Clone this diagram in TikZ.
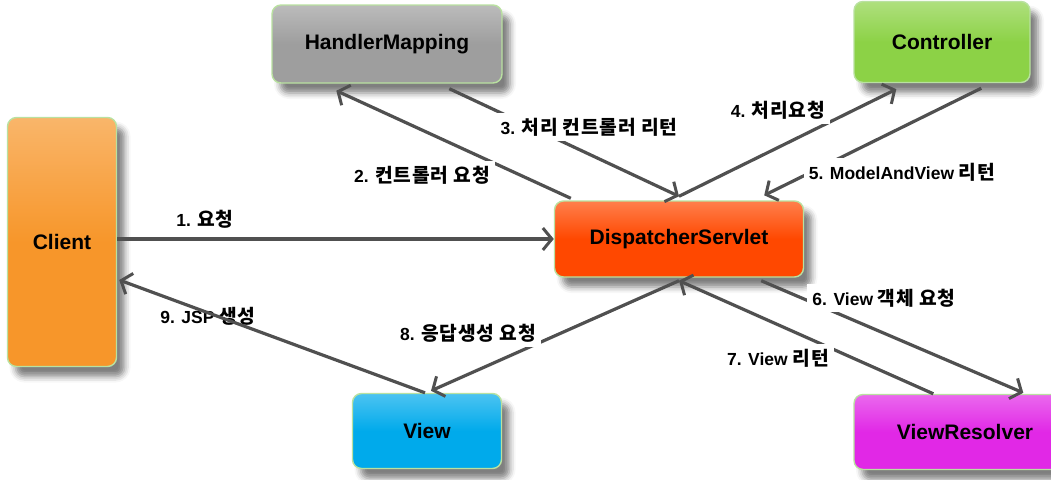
\documentclass[tikz,border=0pt]{standalone}
\usepackage{fontspec}
\setmainfont{Liberation Sans}
\newfontfamily\kr[Scale=1.1, LetterSpace=4]{Noto Sans CJK KR}
\newcommand{\hangul}[1]{{\kr #1}}
\usetikzlibrary{arrows.meta, shadows.blur}
\definecolor{clientc}{RGB}{247,150,42}
\definecolor{hmc}{RGB}{158,158,158}
\definecolor{ctrlc}{RGB}{140,210,70}
\definecolor{dsc}{RGB}{255,72,0}
\definecolor{viewc}{RGB}{0,170,235}
\definecolor{vrc}{RGB}{225,40,230}
\definecolor{boxrim}{RGB}{185,225,160}
\definecolor{arrc}{RGB}{80,80,80}
\tikzset{
  box/.style={draw=boxrim, line width=1.4pt, rounded corners=9pt,
    top color=#1!70!white, bottom color=#1, middle color=#1,
    font=\bfseries\fontsize{21}{24}\selectfont,
    blur shadow={shadow xshift=8pt, shadow yshift=-10pt, shadow opacity=50, shadow blur radius=6pt}},
  arr/.style={-{Straight Barb[length=9pt, width=22pt, line width=3pt]}, line width=3.2pt, draw=arrc},
  lbl/.style={font=\bfseries\fontsize{17.5}{20}\selectfont, fill=white, inner sep=5pt},
}
\begin{document}
\begin{tikzpicture}[x=1pt, y=-1pt]
  \clip (0,0) rectangle (1051,479);
  % components
  \node[box=clientc, minimum width=109pt, minimum height=249pt] (client) at (62,242) {Client};
  \node[box=hmc, minimum width=230pt, minimum height=78pt] (hm) at (387,44) {HandlerMapping};
  \node[box=ctrlc, minimum width=176pt, minimum height=81pt] (ctrl) at (942,42) {Controller};
  \node[box=dsc, minimum width=249pt, minimum height=76pt] (ds) at (679,239) {DispatcherServlet};
  \node[box=viewc, minimum width=149pt, minimum height=75pt] (view) at (427,431) {View};
  \node[box=vrc, minimum width=222pt, minimum height=75pt] (vr) at (965,432) {ViewResolver};
  % request flow
  \draw[arr] (client.east |- ds.west) -- (ds.west);
  \draw[arr] ([xshift=17pt,yshift=2pt]ds.north west) -- ([xshift=65pt,yshift=-7pt]hm.south west);
  \draw[arr] ([xshift=178pt,yshift=-5pt]hm.south west) -- ([yshift=4pt]ds.north);
  \draw[arr] ([yshift=4pt]ds.north) -- ([xshift=43pt,yshift=-6pt]ctrl.south west);
  \draw[arr] ([xshift=128pt,yshift=-5pt]ctrl.south west) -- ([xshift=-40pt,yshift=5pt]ds.north east);
  \draw[arr] ([xshift=-43pt,yshift=-3pt]ds.south east) -- ([xshift=170pt,yshift=1pt]vr.north west);
  \draw[arr] ([xshift=80pt]vr.north west) -- ([yshift=-3pt]ds.south);
  \draw[arr] ([yshift=-3pt]ds.south) -- ([xshift=4pt,yshift=2pt]view.north);
  % labels
  \node[lbl] (l1) at (205,219) {1. \hangul{요청}};
  \node[lbl] (l2) at (422,175) {2. \hangul{컨트롤러 요청}};
  \node[lbl] (l3) at (589,127) {3. \hangul{처리 컨트롤러 리턴}};
  \node[lbl] (l4) at (778,110) {4. \hangul{처리요청}};
  \node[lbl] (l5) at (902,172) {5. ModelAndView \hangul{리턴}};
  \node[lbl] (l6) at (884,298) {6. View \hangul{객체 요청}};
  \node[lbl] (l7) at (778,358) {7. View \hangul{리턴}};
  \node[lbl] (l8) at (468,333) {8. \hangul{응답생성 요청}};
  \node[lbl, fill=none] (l9) at (208,316) {9. JSP \hangul{생성}};
  \draw[arr] ([xshift=-2pt]view.north) -- ([xshift=2pt,yshift=-38pt]client.east);
\end{tikzpicture}
\end{document}
